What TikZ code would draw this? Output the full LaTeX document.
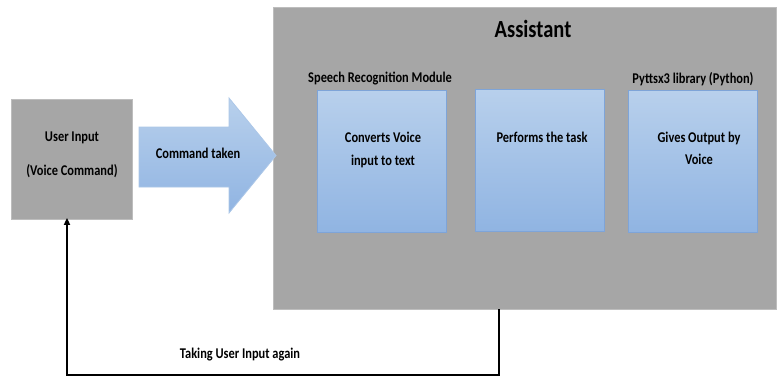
\documentclass[tikz,border=0pt]{standalone}
\usepackage{fontspec}
\setmainfont{Carlito}
\usetikzlibrary{arrows.meta}
\definecolor{boxgray}{HTML}{A6A6A6}
\definecolor{edgegray}{HTML}{BDBDBD}
\definecolor{bluetop}{HTML}{B8D0EC}
\definecolor{bluebot}{HTML}{90B4E2}
\definecolor{blueedge}{HTML}{7EA4D8}
\tikzset{
  lbl/.style={font=\bfseries\fontsize{12.4}{14.5}\selectfont, text=black, align=center,
              inner sep=0pt, transform shape, yscale=1.2},
  graybox/.style={fill=boxgray, draw=edgegray, line width=0.8pt},
  bluebox/.style={top color=bluetop, bottom color=bluebot, draw=blueedge, line width=0.8pt,
                  minimum width=129pt, minimum height=142pt, inner sep=0pt},
  loopline/.style={line width=1.8pt, black, -{Triangle[length=7pt,width=6pt]}}
}
\begin{document}
\begin{tikzpicture}[x=1pt,y=-1pt]
\useasboundingbox (0,0) rectangle (778,378);
\fill[white] (0,0) rectangle (778,378);

% outer assistant block
\node[graybox, minimum width=503pt, minimum height=302pt, inner sep=0pt] (asst) at (525,158) {};
\node[lbl, font=\bfseries\fontsize{20.5}{24}\selectfont] (title) at (533,29) {Assistant};

% user input block
\node[graybox, minimum width=121pt, minimum height=120pt, inner sep=0pt] (user) at (72,159.5) {};
\node[lbl] (utext1) at (72,138) {User Input};
\node[lbl] (utext2) at (72,171) {(Voice Command)};

% block arrow into the assistant
\shade[top color=bluetop, bottom color=bluebot, draw=bluetop!80!blueedge, line width=0.8pt]
  (139,127) -- (229,127) -- (229,98) -- (276,155.5) -- (229,213) -- (229,187) -- (139,187) -- cycle;
\node[lbl] (cmd) at (198,153) {Command taken};

% processing stages
\node[bluebox] (stt) at (381.5,161) {};
\node[bluebox] (task) at (540,160) {};
\node[bluebox] (tts) at (692.5,161) {};

\node[lbl] (sttlabel) at (380,79) {Speech Recognition Module};
\node[lbl] (ttslabel) at (693,79) {Pyttsx3 library (Python)};

\node[lbl] (stttext) at (383,150) {Converts Voice\\[4pt]input to text};
\node[lbl] (tasktext) at (542,137) {Performs the task};
\node[lbl] (ttstext) at (699,148.5) {Gives Output by\\[4pt]Voice};

% feedback loop back to the user
\coordinate (loopR) at (499,375);
\coordinate (loopL) at (67,375);
\draw[loopline] (asst.south -| loopR) -- (loopR) -- (loopL) -- ([yshift=2pt]loopL |- user.south);
\node[lbl] (again) at (240,355) {Taking User Input again};
\end{tikzpicture}
\end{document}
